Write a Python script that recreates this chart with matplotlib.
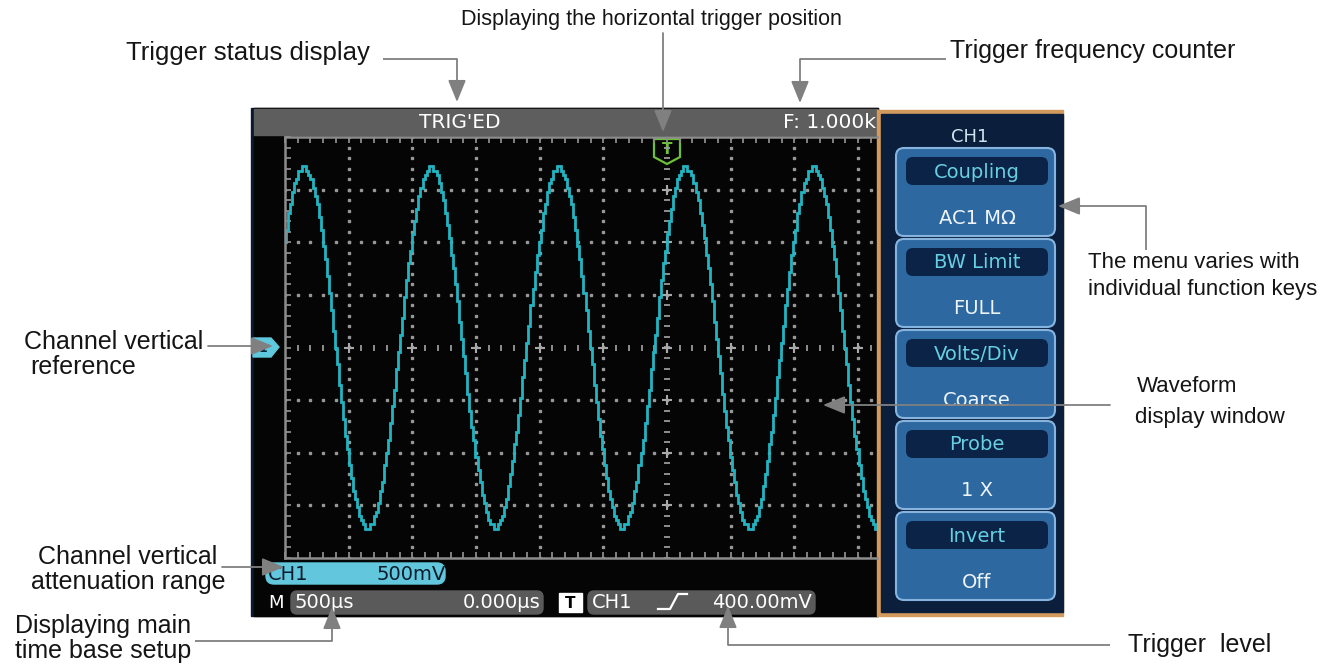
import numpy as np
import matplotlib
matplotlib.use("Agg")
import matplotlib.pyplot as plt
from matplotlib.patches import Rectangle, FancyBboxPatch, Polygon
from matplotlib.ticker import MultipleLocator

# scope settings
time_per_div_us = 500        # M 500us
volts_per_div = 0.5          # CH1 500mV
freq_khz = 1.000             # F: 1.000kHz
amplitude_v = 1.71           # ~3.4 div peak
peak_time_us = 150           # first peak right of the trigger point
trigger_level = "400.00mV"

menu_title = "CH1"
menu_labels = ["Coupling", "BW Limit", "Volts/Div", "Probe", "Invert"]
menu_values = ["AC1 M\u03a9", "FULL", "Coarse", "1 X", "Off"]
menu_tops = [148, 239, 330, 421, 512]

W, H = 1321, 665
GRAY = "#808080"
CYAN = "#22b5c1"
SCR_FONT = "DejaVu Sans"
ANN_FONT = "Liberation Sans"

fig = plt.figure(figsize=(W / 100, H / 100), dpi=100)

# background layer in pixel coordinates
bg = fig.add_axes([0, 0, 1, 1], zorder=0)
bg.set_xlim(0, W)
bg.set_ylim(H, 0)
bg.axis("off")

# screen
bg.add_patch(Rectangle((251, 108), 627, 508, color="#0b1a33"))
bg.add_patch(Rectangle((254, 108), 624, 508, color="#050505"))
bg.add_patch(Rectangle((254, 109), 624, 26, color="#5e5e5e"))
bg.text(460, 123, "TRIG'ED", color="white", fontsize=14.5, family=SCR_FONT,
        ha="center", va="center")
bg.text(783, 123, "F: %.3fkHz" % freq_khz, color="white", fontsize=14.5,
        family=SCR_FONT, ha="left", va="center", zorder=2)

# channel reference marker
bg.add_patch(Polygon([(253, 338), (271, 338), (279, 347), (271, 357), (253, 357)],
                     closed=True, color="#5fc8dc"))
bg.text(263, 348, "1", color="#0b2a40", fontsize=9, family=SCR_FONT,
        ha="center", va="center", fontweight="bold")

# trigger position marker
bg.add_patch(Polygon([(654, 139), (680, 139), (680, 157), (667, 164), (654, 157)],
                     closed=True, fill=False, edgecolor="#6cc03a", lw=1.6))
bg.text(667, 150, "T", color="#6cc03a", fontsize=11, family=SCR_FONT,
        ha="center", va="center", fontweight="bold")

# channel scale box
bg.add_patch(FancyBboxPatch((266, 563), 179, 21, boxstyle="round,pad=0,rounding_size=8",
                            color="#62c7dc"))
bg.text(268, 575, "CH1", color="#0a1a2a", fontsize=14, family=SCR_FONT,
        ha="left", va="center")
bg.text(446, 575, "%dmV" % int(volts_per_div * 1000), color="#0a1a2a", fontsize=14,
        family=SCR_FONT, ha="right", va="center")

# status line
bg.text(268, 603, "M", color="white", fontsize=13, family=SCR_FONT,
        ha="left", va="center")
bg.add_patch(FancyBboxPatch((291, 591), 252, 23, boxstyle="round,pad=0,rounding_size=6",
                            color="#5a5a5a"))
bg.text(294, 603, "%d\u00b5s" % time_per_div_us, color="white", fontsize=14,
        family=SCR_FONT, ha="left", va="center")
bg.text(541, 603, "0.000\u00b5s", color="white", fontsize=14, family=SCR_FONT,
        ha="right", va="center")
bg.add_patch(Rectangle((559, 593), 23, 19, color="white"))
bg.text(570.5, 603, "T", color="black", fontsize=11, family=SCR_FONT,
        ha="center", va="center", fontweight="bold")
bg.add_patch(FancyBboxPatch((588, 591), 227, 23, boxstyle="round,pad=0,rounding_size=6",
                            color="#5a5a5a"))
bg.text(592, 603, "CH1", color="white", fontsize=14, family=SCR_FONT,
        ha="left", va="center")
bg.plot([658, 670, 678, 687], [609, 609, 594, 594], color="white", lw=1.6)
bg.text(812, 603, trigger_level, color="white", fontsize=14, family=SCR_FONT,
        ha="right", va="center")

# menu panel (drawn above the status-bar text so it cuts off the counter)
bg.add_patch(Rectangle((877, 110), 186, 506, color="#d39a5e", zorder=4))
bg.add_patch(Rectangle((881, 114), 182, 498, color="#0b1f3d", zorder=4))
bg.text(970, 137, menu_title, color="#cfe6f0", fontsize=13, family=SCR_FONT,
        ha="center", va="center", zorder=6)
for top, lab, val in zip(menu_tops, menu_labels, menu_values):
    bg.add_patch(FancyBboxPatch((896, top), 159, 88,
                                boxstyle="round,pad=0,rounding_size=8",
                                facecolor="#2d69a0", edgecolor="#86b4de", lw=1.5,
                                zorder=5))
    bg.add_patch(FancyBboxPatch((906, top + 9), 142, 28,
                                boxstyle="round,pad=0,rounding_size=7",
                                facecolor="#0a2346", edgecolor="none", zorder=5))
    bg.text(977, top + 24, lab, color="#66cfe2", fontsize=14, family=SCR_FONT,
            ha="center", va="center", zorder=6)
    bg.text(977, top + 70, val, color="#eef4fa", fontsize=14, family=SCR_FONT,
            ha="center", va="center", zorder=6)

# scope graticule, in time (us) and volts
px_per_div = (667 - 285) / 6.0
right_us = (877 - 667) / px_per_div * time_per_div_us
scope = fig.add_axes([285 / W, 1 - 558 / H, (877 - 285) / W, (558 - 137) / H], zorder=1)
scope.set_facecolor("none")
scope.set_xlim(-6 * time_per_div_us, right_us)
scope.set_ylim(-4 * volts_per_div, 4 * volts_per_div)
for side in ["left", "top", "bottom"]:
    scope.spines[side].set_color("#8c8c8c")
    scope.spines[side].set_linewidth(1.8)
scope.spines["right"].set_visible(False)
scope.xaxis.set_major_locator(MultipleLocator(time_per_div_us / 5))
scope.yaxis.set_major_locator(MultipleLocator(volts_per_div / 5))
scope.tick_params(direction="in", length=4, width=1.3, color="#8c8c8c",
                  top=True, bottom=True, left=True, right=False,
                  labelbottom=False, labelleft=False)

dot = dict(marker="s", markersize=1.7, color="#979797", linestyle="none")
minor_t = np.arange(-6 * time_per_div_us, right_us, time_per_div_us / 5)
minor_v = np.arange(-4, 4.01, 0.2) * volts_per_div
for k in [-3, -2, -1, 1, 2, 3]:
    scope.plot(minor_t, np.full_like(minor_t, k * volts_per_div), **dot)
for k in [-5, -4, -3, -2, -1, 1, 2, 3]:
    scope.plot(np.full_like(minor_v, k * time_per_div_us), minor_v, **dot)
# centre axes
scope.plot(minor_t, np.zeros_like(minor_t), marker="|", markersize=5,
           color="#9a9a9a", linestyle="none", mew=1.3)
scope.plot(np.zeros_like(minor_v), minor_v, marker="_", markersize=5,
           color="#9a9a9a", linestyle="none", mew=1.3)
major_t = np.arange(-5, 4) * time_per_div_us
major_v = np.arange(-3, 4) * volts_per_div
scope.plot(major_t, np.zeros_like(major_t), marker="+", markersize=7,
           color="#a8a8a8", linestyle="none", mew=1.5)
scope.plot(np.zeros_like(major_v), major_v, marker="+", markersize=7,
           color="#a8a8a8", linestyle="none", mew=1.5)

# trace
t = np.arange(-6 * time_per_div_us, right_us + 20, 16)
v = amplitude_v * np.cos(2 * np.pi * freq_khz / 1000 * (t - peak_time_us))
v = np.round(v / 0.04) * 0.04
scope.plot(t, v, color=CYAN, lw=2.0, drawstyle="steps-mid", solid_joinstyle="miter")

# annotation layer
fg = fig.add_axes([0, 0, 1, 1], zorder=2)
fg.set_facecolor("none")
fg.set_xlim(0, W)
fg.set_ylim(H, 0)
fg.axis("off")


def pointer(pts):
    xs = [p[0] for p in pts]
    ys = [p[1] for p in pts]
    if len(pts) > 2:
        fg.plot(xs[:-1], ys[:-1], color=GRAY, lw=1.3, solid_capstyle="butt")
    fg.annotate("", xy=pts[-1], xytext=pts[-2],
                arrowprops=dict(arrowstyle="-|>,head_length=1.35,head_width=0.55",
                                mutation_scale=10, color=GRAY, lw=1.3,
                                shrinkA=0, shrinkB=0))


def label(x, y, s, size=18, ha="left"):
    fg.text(x, y, s, fontsize=size, family=ANN_FONT, color="#151515",
            ha=ha, va="center")


label(126, 53, "Trigger status display", 18.5)
pointer([(383, 59), (457, 59), (457, 102)])

label(651, 20, "Displaying the horizontal trigger position", 15.5, ha="center")
pointer([(663, 33), (663, 132)])

label(950, 51, "Trigger frequency counter", 18)
pointer([(946, 59), (800, 59), (800, 103)])

label(1088, 263, "The menu varies with", 16)
label(1088, 289, "individual function keys", 16)
pointer([(1146, 250), (1146, 206), (1058, 206)])

label(1137, 387, "Waveform", 16)
label(1135, 417, "display window", 16)
pointer([(1110, 405), (823, 405)])

label(24, 342, "Channel vertical", 18)
label(30, 367, "reference", 18)
pointer([(208, 346), (273, 346)])

label(38, 557, "Channel vertical", 18)
label(31, 582, "attenuation range", 18)
pointer([(222, 567), (284, 567)])

label(15, 626, "Displaying main", 18)
label(15, 651, "time base setup", 18)
pointer([(195, 641), (332, 641), (332, 607)])

label(1128, 645, "Trigger  level", 18)
pointer([(1110, 645), (728, 645), (728, 606)])

fig.savefig("out.png", dpi=100)
